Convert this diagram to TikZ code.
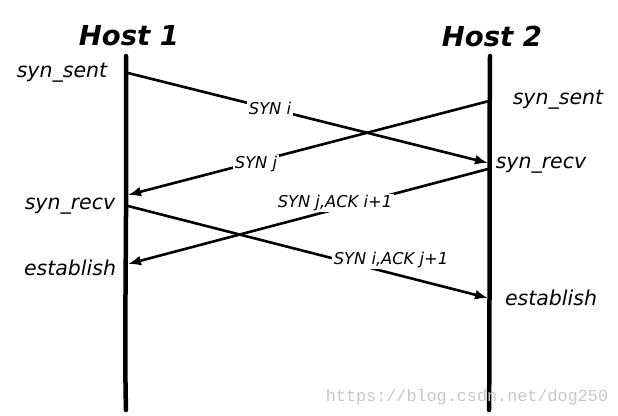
\documentclass[tikz,border=0pt]{standalone}
\usepackage{fontspec}
\setmainfont{DejaVu Sans}
\newfontfamily\wmfont{Liberation Mono}
\usetikzlibrary{arrows.meta}
\begin{document}
\begin{tikzpicture}[x=1pt,y=-1pt,
  lifeline/.style={line width=4.5pt,line cap=round},
  msg/.style={line width=2.6pt,-{Latex[length=13pt,width=10pt]}},
  msglabel/.style={fill=white,inner sep=1.5pt,font=\fontsize{16.3}{18}\selectfont\itshape},
  state/.style={font=\fontsize{20.5}{22}\selectfont\itshape,inner sep=0pt},
  host/.style={font=\fontsize{27.5}{30}\selectfont\bfseries\itshape,inner sep=0pt}]
\useasboundingbox (0,0) rectangle (618,415);
% hosts
\node[host] (h1) at (129,36) {Host 1};
\node[host] (h2) at (492,36) {Host 2};
\coordinate (h1top) at (126,56);
\coordinate (h1bot) at (126,410);
\coordinate (h2top) at (490,56);
\coordinate (h2bot) at (489,410);
\draw[lifeline] (h1top) .. controls (127,250) and (124,330) .. (h1bot);
\draw[lifeline] (h2top) .. controls (489,200) and (490,330) .. (h2bot);
% endpoints
\coordinate (a1) at (128,73);
\coordinate (a2) at (488,163);
\coordinate (b1) at (489,101);
\coordinate (b2) at (128,195);
\coordinate (c1) at (488,169);
\coordinate (c2) at (128,264);
\coordinate (d1) at (128,206);
\coordinate (d2) at (488,298);
% messages
\draw[msg] (a1) -- (a2);
\draw[msg] (b1) -- (b2);
\draw[msg] (c1) -- (c2);
\draw[msg] (d1) -- (d2);
\node[msglabel] (la) at (270,108) {SYN i};
\node[msglabel] (lb) at (256,164) {SYN j};
\node[msglabel] (lc) at (335,203) {SYN j,ACK i+1};
\node[msglabel] (ld) at (391,260) {SYN i,ACK j+1};
% states
\node[state] (s1) at (62,73) {syn\_sent};
\node[state] (s2) at (70,206) {syn\_recv};
\node[state] (s3) at (70,268) {establish};
\node[state] (s4) at (558,100) {syn\_sent};
\node[state] (s5) at (541,165) {syn\_recv};
\node[state] (s6) at (551,298) {establish};
% watermark
\node[font=\wmfont\fontsize{16.8}{18}\selectfont,text=black!22,inner sep=0pt] (wm) at (467,397) {https://blog.csdn.net/dog250};
\end{tikzpicture}
\end{document}
